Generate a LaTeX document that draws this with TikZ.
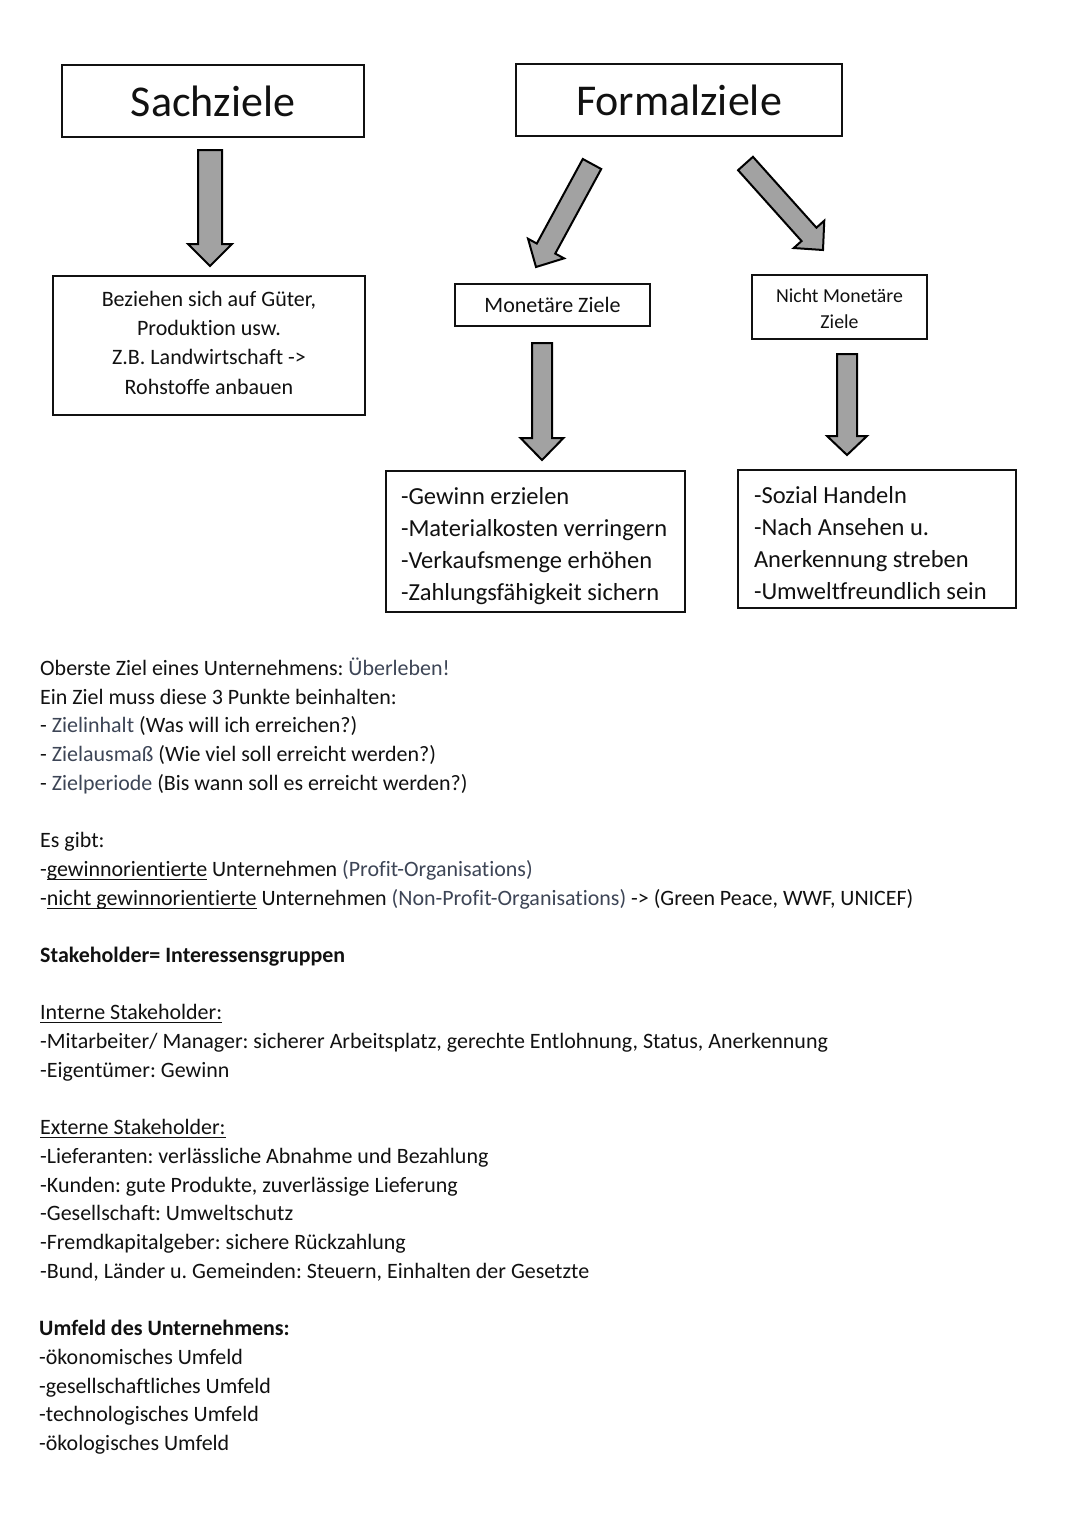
\documentclass[tikz,border=0pt]{standalone}
\usepackage{fontspec}
\setmainfont{Carlito}[Ligatures={NoCommon}]
\usetikzlibrary{calc}
\definecolor{slate}{HTML}{3D4556}
\definecolor{ink}{HTML}{111111}
\definecolor{arrgray}{HTML}{A2A2A2}
\frenchspacing
\newcommand\hl[1]{\textcolor{slate}{#1}}
\newcommand\normsp{\spaceskip=0pt\relax\xspaceskip=0pt\relax}
\newsavebox\ulbox
\newcommand\myuline[1]{\sbox\ulbox{#1}\rlap{\rule[-3.5pt]{\wd\ulbox}{1.1pt}}\usebox\ulbox}
\newcommand\myblockarrow[5]{% tail, tip, shaft half, head half, head length
  \coordinate (hb) at ($(#2)!#5!(#1)$);
  \draw[blockarr] ($(#1)!#3!90:(#2)$) -- ($(hb)!#3!-90:(#1)$) -- ($(hb)!#4!-90:(#1)$) -- (#2)
     -- ($(hb)!#4!90:(#1)$) -- ($(hb)!#3!90:(#1)$) -- ($(#1)!#3!-90:(#2)$) -- cycle;
}
\begin{document}
\begin{tikzpicture}[x=1pt,y=-1pt,
  box/.style={draw=ink, line width=1.3pt, inner sep=0pt, text=ink},
  blockarr/.style={draw=black, fill=arrgray, line width=2pt, line join=miter},
  txt/.style={anchor=base west, inner sep=0pt, text=ink, font=\fontsize{21.95}{26}\selectfont},
  big/.style={font=\fontsize{44}{50}\selectfont},
  mid/.style={font=\fontsize{22}{29.3}\selectfont, align=center},
  list/.style={font=\fontsize{24.5}{32}\selectfont, align=left}]
\useasboundingbox (0,0) rectangle (1080,1526);
\fill[white] (0,0) rectangle (1080,1526);

% top boxes
\node[box, big, minimum width=302pt, minimum height=72pt] (sach) at (213,101) {Sachziele};
\node[box, big, minimum width=326pt, minimum height=72pt] (formal) at (679,100) {Formalziele};

\node[box, mid, minimum width=312pt, minimum height=139pt] (bez) at (209,345.5)
  {Beziehen sich auf Güter,\\ Produktion usw.\\ Z.B. Landwirtschaft ->\\ Rohstoffe anbauen\rule[-6pt]{0pt}{6pt}};
\node[box, font=\fontsize{22}{26}\selectfont, minimum width=195pt, minimum height=42pt] (mon) at (552.5,305) {Monetäre Ziele};
\node[box, font=\fontsize{19.8}{26}\selectfont, align=center, minimum width=175pt, minimum height=64pt] (nmon) at (839.5,307) {\rule{0pt}{18pt}Nicht Monetäre\\ Ziele};

\node[box, list, minimum width=299pt, minimum height=141pt, text width=269pt, inner xsep=15pt] (gew) at (535.5,541.5)
  {\normsp\rule{0pt}{27pt}-Gewinn erzielen\\ -Materialkosten verringern\\ -Verkaufsmenge erhöhen\\ -Zahlungsfähigkeit sichern};
\node[box, list, minimum width=278pt, minimum height=138pt, text width=246pt, inner xsep=16pt] (soz) at (877,539)
  {\normsp\rule{0pt}{26pt}-Sozial Handeln\\ -Nach Ansehen u.\\ Anerkennung streben\\ -Umweltfreundlich sein};

% block arrows
\coordinate (a1t) at (210,150); \coordinate (a1h) at (210,266);
\coordinate (a2t) at (592,164); \coordinate (a2h) at (536,267);
\coordinate (a3t) at (745.5,163.5); \coordinate (a3h) at (823,250);
\coordinate (a4t) at (542,343); \coordinate (a4h) at (542,460);
\coordinate (a5t) at (847,354); \coordinate (a5h) at (847,455);
\myblockarrow{a1t}{a1h}{12pt}{22pt}{22pt}
\myblockarrow{a2t}{a2h}{10.5pt}{20.5pt}{21pt}
\myblockarrow{a3t}{a3h}{10pt}{20.5pt}{21pt}
\myblockarrow{a4t}{a4h}{10pt}{21.5pt}{22pt}
\myblockarrow{a5t}{a5h}{10pt}{20pt}{19pt}

% text section
\node[txt] (l0) at (40,675.5) {Oberste Ziel eines Unternehmens: \hl{Überleben!}};
\node[txt] (l1) at (40,704.2) {Ein Ziel muss diese 3 Punkte beinhalten:};
\node[txt] (l2) at (40,732.9) {- \hl{Zielinhalt} (Was will ich erreichen?)};
\node[txt] (l3) at (40,761.6) {- \hl{Zielausmaß} (Wie viel soll erreicht werden?)};
\node[txt] (l4) at (40,790.3) {- \hl{Zielperiode} (Bis wann soll es erreicht werden?)};

\node[txt] (l6) at (40,847.7) {Es gibt:};
\node[txt] (l7) at (40,876.4) {-\myuline{gewinnorientierte} Unternehmen \hl{(Profit-Organisations)}};
\node[txt] (l8) at (40,905.1) {-\myuline{nicht gewinnorientierte} Unternehmen \hl{(Non-Profit-Organisations)} -> (Green Peace, WWF, UNICEF)};

\node[txt] (l10) at (40,962.5) {\textbf{Stakeholder= Interessensgruppen}};

\node[txt] (l12) at (40,1019.9) {\myuline{Interne Stakeholder:}};
\node[txt] (l13) at (40,1048.6) {-Mitarbeiter/ Manager: sicherer Arbeitsplatz, gerechte Entlohnung, Status, Anerkennung};
\node[txt] (l14) at (40,1077.3) {-Eigentümer: Gewinn};

\node[txt] (l16) at (40,1134.7) {\myuline{Externe Stakeholder:}};
\node[txt] (l17) at (40,1163.4) {-Lieferanten: verlässliche Abnahme und Bezahlung};
\node[txt] (l18) at (40,1192.1) {-Kunden: gute Produkte, zuverlässige Lieferung};
\node[txt] (l19) at (40,1220.8) {-Gesellschaft: Umweltschutz};
\node[txt] (l20) at (40,1249.5) {-Fremdkapitalgeber: sichere Rückzahlung};
\node[txt] (l21) at (40,1278.2) {-Bund, Länder u. Gemeinden: Steuern, Einhalten der Gesetzte};

\node[txt] (l23) at (39,1335.6) {\textbf{Umfeld des Unternehmens:}};
\node[txt] (l24) at (39,1364.3) {-ökonomisches Umfeld};
\node[txt] (l25) at (39,1393.0) {-gesellschaftliches Umfeld};
\node[txt] (l26) at (39,1421.7) {-technologisches Umfeld};
\node[txt] (l27) at (39,1450.4) {-ökologisches Umfeld};
\end{tikzpicture}
\end{document}
